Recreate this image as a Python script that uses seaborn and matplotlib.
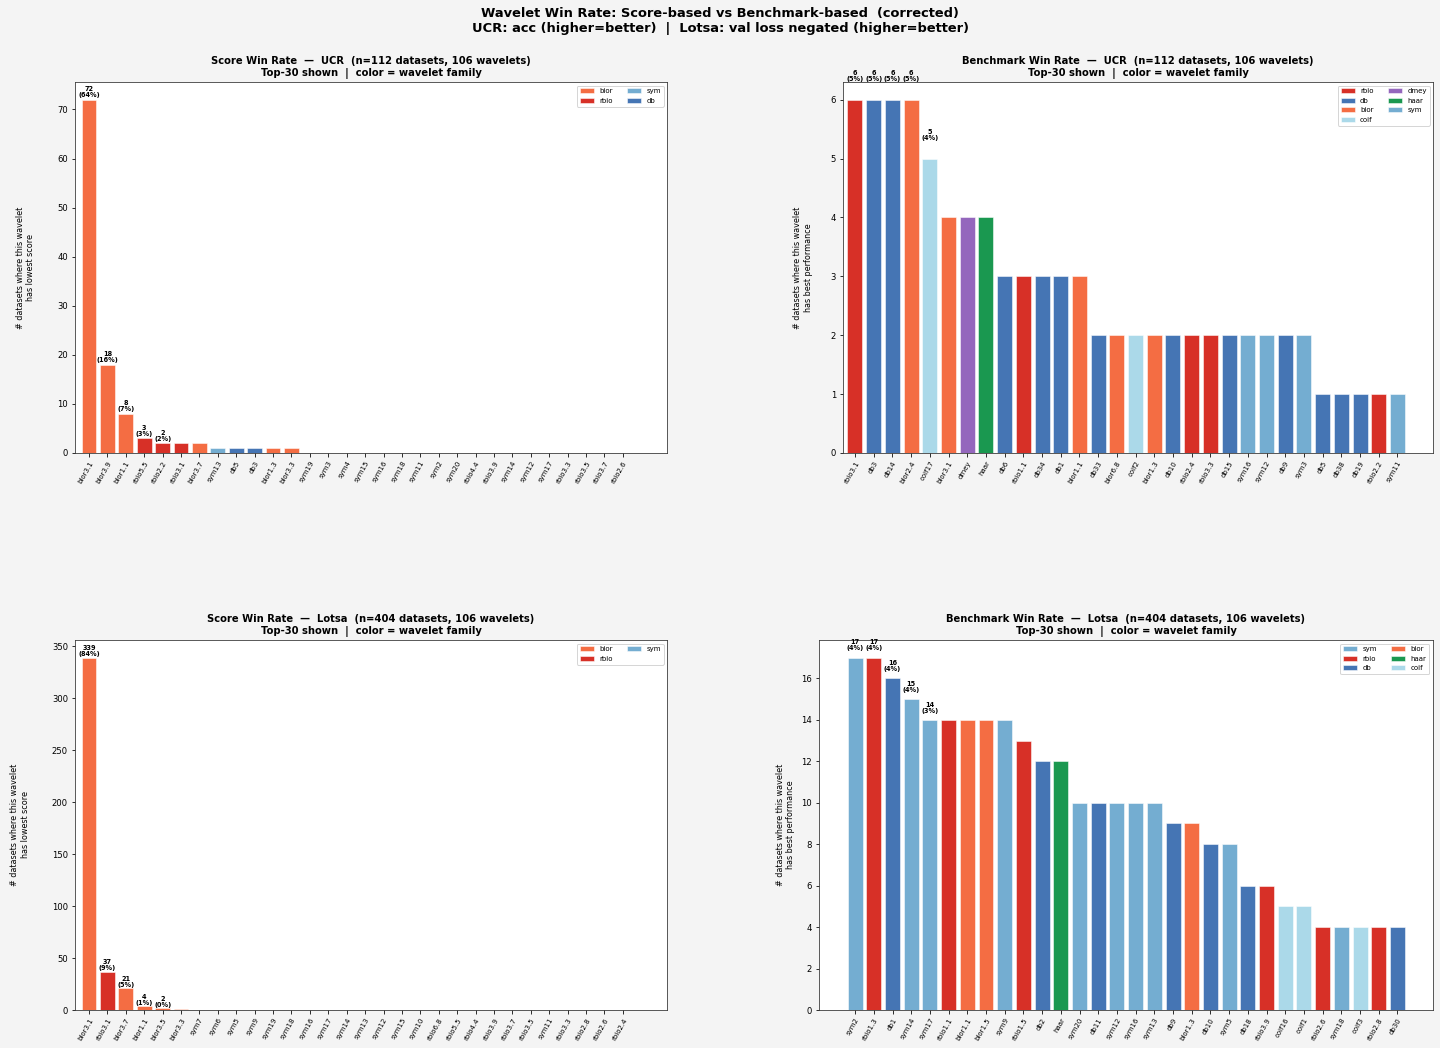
import numpy as np
import pandas as pd
import seaborn as sns
import matplotlib.pyplot as plt

### data (top-30 wavelets per panel)
ucr_score_names = ["bior3.1", "bior3.9", "bior1.1", "rbio5.5", "rbio2.2", "rbio3.1", "bior3.7",
                   "sym13", "db5", "db3", "bior1.3", "bior3.3", "sym19", "sym3", "sym4", "sym15",
                   "sym16", "sym18", "sym11", "sym2", "sym20", "rbio4.4", "rbio3.9", "sym14",
                   "sym12", "sym17", "rbio3.3", "rbio3.5", "rbio3.7", "rbio2.6"]
ucr_score_vals = [72, 18, 8, 3, 2, 2, 2, 1, 1, 1, 1, 1, 0, 0, 0, 0,
                  0, 0, 0, 0, 0, 0, 0, 0, 0, 0, 0, 0, 0, 0]

ucr_bench_names = ["rbio3.1", "db3", "db14", "bior2.4", "coif17", "bior3.1", "dmey", "haar",
                   "db6", "rbio1.1", "db34", "db1", "bior1.1", "db33", "bior6.8", "coif2",
                   "bior1.3", "db10", "rbio2.4", "rbio3.3", "db15", "sym16", "sym12", "db9",
                   "sym3", "db5", "db38", "db19", "rbio2.2", "sym11"]
ucr_bench_vals = [6, 6, 6, 6, 5, 4, 4, 4, 3, 3, 3, 3, 3, 2, 2, 2,
                  2, 2, 2, 2, 2, 2, 2, 2, 2, 1, 1, 1, 1, 1]

lotsa_score_names = ["bior3.1", "rbio3.1", "bior3.7", "bior1.1", "bior3.5", "bior3.3", "sym7",
                     "sym6", "sym5", "sym9", "sym19", "sym18", "sym16", "sym17", "sym14",
                     "sym13", "sym12", "sym15", "sym10", "rbio6.8", "rbio5.5", "rbio4.4",
                     "rbio3.9", "rbio3.7", "rbio3.5", "sym11", "rbio3.3", "rbio2.8", "rbio2.6",
                     "rbio2.4"]
lotsa_score_vals = [339, 37, 21, 4, 2, 1, 0, 0, 0, 0, 0, 0, 0, 0, 0,
                    0, 0, 0, 0, 0, 0, 0, 0, 0, 0, 0, 0, 0, 0, 0]

lotsa_bench_names = ["sym2", "rbio1.3", "db1", "sym14", "sym17", "rbio1.1", "bior1.1", "bior1.5",
                     "sym9", "rbio1.5", "db2", "haar", "sym20", "db11", "sym12", "sym16",
                     "sym13", "db9", "bior1.3", "db10", "sym5", "db18", "rbio3.9", "coif16",
                     "coif1", "rbio2.6", "sym18", "coif3", "rbio2.8", "db30"]
lotsa_bench_vals = [17, 17, 16, 15, 14, 14, 14, 14, 14, 13, 12, 12, 10, 10, 10, 10,
                    10, 9, 9, 8, 8, 6, 6, 5, 5, 4, 4, 4, 4, 4]

family_colors = {"bior": "#f46d43", "rbio": "#d73027", "sym": "#74add1", "db": "#4575b4",
                 "coif": "#abd9e9", "dmey": "#9467bd", "haar": "#1a9850"}


def family(name):
    for fam in ["bior", "rbio", "sym", "db", "coif", "dmey", "haar"]:
        if name.startswith(fam):
            return fam
    return name


panels = [
    ("Score Win Rate  —  UCR  (n=112 datasets, 106 wavelets)", ucr_score_names, ucr_score_vals,
     112, "has lowest score", [75, 453, 667, 82], (-0.76, 31.4), 22),
    ("Benchmark Win Rate  —  UCR  (n=112 datasets, 106 wavelets)", ucr_bench_names, ucr_bench_vals,
     112, "has best performance", [843, 453, 1433, 82], (-0.64, 30.9), 18),
    ("Score Win Rate  —  Lotsa  (n=404 datasets, 106 wavelets)", lotsa_score_names, lotsa_score_vals,
     404, "has lowest score", [75, 1010, 667, 640], (-0.76, 31.4), 22),
    ("Benchmark Win Rate  —  Lotsa  (n=404 datasets, 106 wavelets)", lotsa_bench_names, lotsa_bench_vals,
     404, "has best performance", [819, 1010, 1433, 640], (-1.93, 30.9), 6),
]

W, H = 1440, 1048
fig = plt.figure(figsize=(W / 72, H / 72), dpi=72, facecolor="#f4f4f4")

for title, names, vals, n, ylab, box, xl, lpad in panels:
    l, b, r, t = box
    ax = fig.add_axes([l / W, (H - b) / H, (r - l) / W, (b - t) / H])
    ax.set_facecolor("white")
    df = pd.DataFrame({"wavelet": names, "count": vals,
                       "family": [family(w) for w in names]})
    sns.barplot(data=df, x="wavelet", y="count", hue="family", palette=family_colors,
                dodge=False, width=0.8, saturation=1, edgecolor="white", linewidth=0.5, ax=ax)
    # annotate top-5 bars
    for i in range(5):
        v = vals[i]
        ax.text(i, v + 0.3, f"{v}\n({100 * v / n:.0f}%)", ha="center", va="bottom",
                fontsize=6.5, fontweight="bold", linespacing=1.0)
    ax.set_xlim(*xl)
    ax.set_ylim(0, max(vals) * 1.05)
    ax.set_xlabel("")
    ax.set_ylabel("# datasets where this wavelet\n" + ylab, fontsize=8, labelpad=lpad)
    ax.set_title(title + "\nTop-30 shown  |  color = wavelet family",
                 fontsize=10, fontweight="bold", pad=6)
    ax.tick_params(axis="x", labelrotation=60, labelsize=7)
    ax.tick_params(axis="y", labelsize=8.5)
    for lab in ax.get_xticklabels():
        lab.set_ha("right")
        lab.set_rotation_mode("anchor")
    ax.legend(ncol=2, fontsize=7, loc="upper right", title=None)
    for s in ax.spines.values():
        s.set_color("#333333")

fig.suptitle("Wavelet Win Rate: Score-based vs Benchmark-based  (corrected)\n"
             "UCR: acc (higher=better)  |  Lotsa: val loss negated (higher=better)",
             fontsize=13, fontweight="bold", y=0.993)

fig.savefig("out.png", dpi=72, facecolor=fig.get_facecolor())
